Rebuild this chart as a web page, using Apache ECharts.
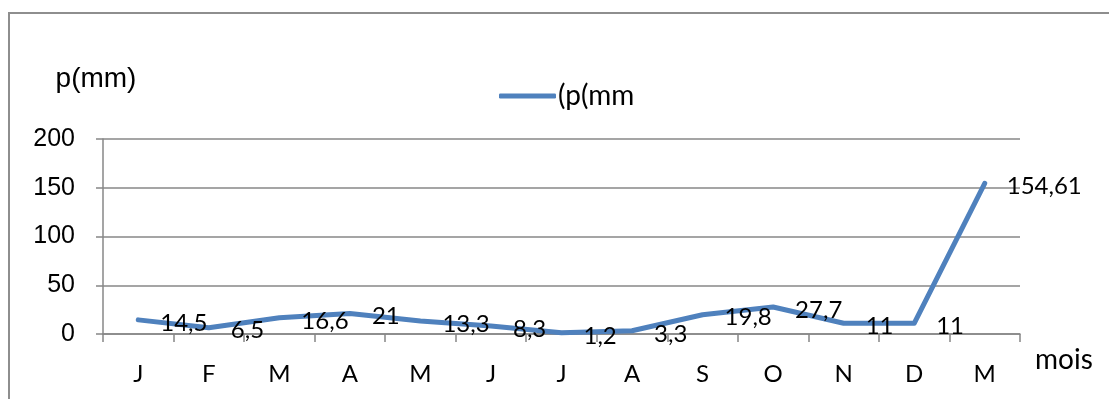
<!DOCTYPE html>
<html>
<head>
<meta charset="utf-8">
<script src="https://cdn.jsdelivr.net/npm/echarts@6/dist/echarts.min.js"></script>
<style>
  html, body { margin: 0; padding: 0; background: #fff; }
  #chart { width: 1109px; height: 399px; }
</style>
</head>
<body>
<div id="chart"></div>
<script>
// Monthly precipitation (mm)
const months = ['J', 'F', 'M', 'A', 'M', 'J', 'J', 'A', 'S', 'O', 'N', 'D', 'M'];
const precip = [14.5, 6.5, 16.6, 21, 13.3, 8.3, 1.2, 3.3, 19.8, 27.7, 11, 11, 154.61];
const seriesName = '(p(mm';
const yTicks = { min: 0, max: 200, interval: 50 };

const chart = echarts.init(document.getElementById('chart'), null, { renderer: 'canvas' });

const labelFont = 'Lato, "Open Sans", sans-serif';
const axisFont = '"Liberation Sans", Arial, sans-serif';
const grey = '#878787';

chart.setOption({
  animation: false,
  backgroundColor: '#fff',
  graphic: [{
    type: 'rect',
    shape: { x: 9, y: 13, width: 1200, height: 500 },
    style: { fill: 'none', stroke: '#8e8e8e', lineWidth: 2 },
    silent: true,
    z: -1
  }],
  legend: {
    left: 494,
    top: 77,
    icon: 'roundRect',
    itemWidth: 57,
    itemHeight: 5,
    itemGap: 10,
    textStyle: { fontFamily: labelFont, fontSize: 28, color: '#000', padding: [0, 0, 0, -3] },
    data: [seriesName]
  },
  grid: { left: 103, right: 89, top: 139, bottom: 65, containLabel: false },
  xAxis: {
    type: 'category',
    data: months,
    boundaryGap: true,
    name: 'mois',
    nameLocation: 'end',
    nameGap: 15,
    nameTextStyle: { fontFamily: labelFont, fontSize: 28, color: '#000', verticalAlign: 'top', padding: [12, 0, 0, 0] },
    axisLine: { show: true, lineStyle: { color: grey, width: 1.5 } },
    axisTick: { show: true, alignWithLabel: false, length: 8, lineStyle: { color: grey, width: 1.5 } },
    axisLabel: { fontFamily: labelFont, fontSize: 24, color: '#000', margin: 28, interval: 0 },
    splitLine: { show: false }
  },
  yAxis: {
    type: 'value',
    min: yTicks.min,
    max: yTicks.max,
    interval: yTicks.interval,
    name: 'p(mm)',
    nameLocation: 'end',
    nameGap: 46,
    nameTextStyle: { fontFamily: axisFont, fontSize: 28, color: '#000', align: 'center', padding: [0, 14, 0, 0] },
    axisLine: { show: true, lineStyle: { color: grey, width: 1.5 } },
    axisTick: { show: true, length: 7, lineStyle: { color: grey, width: 1.5 } },
    axisLabel: { fontFamily: axisFont, fontSize: 25, color: '#000', margin: 28 },
    splitLine: { show: true, lineStyle: { color: grey, width: 1.5 } }
  },
  series: [{
    name: seriesName,
    type: 'line',
    data: precip,
    symbol: 'circle',
    symbolSize: 0,
    showSymbol: true,
    lineStyle: { color: '#4f81bd', width: 5, cap: 'round', join: 'round' },
    itemStyle: { color: '#4f81bd' },
    label: {
      show: true,
      position: 'right',
      distance: 22,
      offset: [0, 3],
      fontFamily: labelFont,
      fontSize: 24,
      color: '#000',
      formatter: p => String(p.value).replace('.', ',')
    }
  }]
});
</script>
</body>
</html>
